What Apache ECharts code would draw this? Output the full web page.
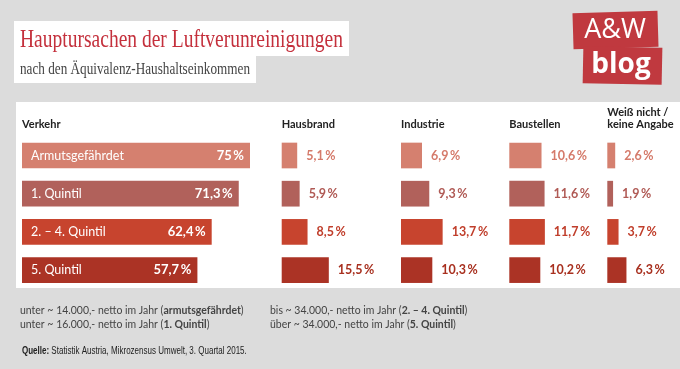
<!DOCTYPE html>
<html><head><meta charset="utf-8">
<script src="https://cdn.jsdelivr.net/npm/echarts@6/dist/echarts.min.js"></script>
<style>html,body{margin:0;padding:0;background:#dcdcdc}#c{width:680px;height:369px}</style>
</head><body><div id="c"></div>
<script>
const categories = ['Armutsgefährdet', '1. Quintil', '2. – 4. Quintil', '5. Quintil'];
const groupNames = ['Verkehr', 'Hausbrand', 'Industrie', 'Baustellen', 'Weiß nicht /\nkeine Angabe'];
const verkehr = [75, 71.3, 62.4, 57.7];
const hausbrand = [5.1, 5.9, 8.5, 15.5];
const industrie = [6.9, 9.3, 13.7, 10.3];
const baustellen = [10.6, 11.6, 11.7, 10.2];
const weissNicht = [2.6, 1.9, 3.7, 6.3];
const seriesData = [verkehr, hausbrand, industrie, baustellen, weissNicht];

const rowColors = ['#d5806f', '#b1615b', '#c7442e', '#ab3325'];
const labelColors = ['#d57a6a', '#b05a55', '#c03e2b', '#a8301f'];
const PX = 3.04;
const gridLefts = [22, 281.7, 401, 509.3, 607.3];
const gridMax = [80, 20, 20, 20, 20];
const TOP = 136.4, H = 152.8;

const cv = document.createElement('canvas').getContext('2d');
function fit(text, font, w) { cv.font = font; return w / cv.measureText(text).width; }
const fmt = v => String(v).replace('.', ',') + '\u2009%';

const grids = [], xAxes = [], yAxes = [], series = [];
seriesData.forEach((d, i) => {
  grids.push({ left: gridLefts[i], top: TOP, width: gridMax[i] * PX, height: H });
  xAxes.push({ type: 'value', gridIndex: i, min: 0, max: gridMax[i], show: false });
  yAxes.push({ type: 'category', gridIndex: i, data: categories, inverse: true, show: false });
  series.push({
    type: 'bar', xAxisIndex: i, yAxisIndex: i, barWidth: 25.7, barGap: '-100%',
    data: d, animation: false,
    itemStyle: { color: p => rowColors[p.dataIndex] },
    label: i === 0 ? {
      show: true, position: 'insideRight', distance: 6, color: '#fff',
      fontFamily: 'Lato', fontWeight: 'bold', fontSize: 13, formatter: p => fmt(p.value)
    } : {
      show: true, position: 'right', distance: 9,
      fontFamily: 'Lato', fontWeight: 'bold', fontSize: 12.5,
      formatter: p => '{c' + p.dataIndex + '|' + fmt(p.value) + '}',
      rich: { c0: { color: labelColors[0] }, c1: { color: labelColors[1] }, c2: { color: labelColors[2] }, c3: { color: labelColors[3] } }
    }
  });
});
series.push({
  type: 'bar', xAxisIndex: 0, yAxisIndex: 0, barWidth: 25.7, barGap: '-100%',
  data: verkehr, animation: false, silent: true,
  itemStyle: { color: 'rgba(0,0,0,0)' },
  label: { show: true, position: 'insideLeft', distance: 9, color: '#fff', fontFamily: 'Lato', fontSize: 12.5,
    formatter: p => categories[p.dataIndex] }
});

const titleText = 'Hauptursachen der Luftverunreinigungen';
const subText = 'nach den Äquivalenz-Haushaltseinkommen';
const srcText = 'Quelle: Statistik Austria, Mikrozensus Umwelt, 3. Quartal 2015.';
const tFont = '25px "Liberation Serif"', sFont = '17px "Liberation Serif"';
const fFont = '12px "Lato"';
const fs = fit('unter ~ 14.000,- netto im Jahr (armutsgefährdet)', fFont, 222);

function foot(x, y, txt) {
  return { type: 'text', x, y, scaleX: fs, originX: 0,
    style: { rich: { b: { fontWeight: 'bold', fontFamily: 'Lato', fontSize: 12 } }, text: txt,
      fontSize: 12, fontFamily: 'Lato', fill: '#444', textVerticalAlign: 'middle' } };
}

const graphic = [
  { type: 'rect', shape: { x: 16, y: 102, width: 664, height: 186 }, style: { fill: '#fff' }, z: -10 },
  { type: 'rect', shape: { x: 14, y: 21, width: 335, height: 35 }, style: { fill: '#fff' } },
  { type: 'rect', shape: { x: 14, y: 55, width: 242, height: 28 }, style: { fill: '#fff' } },
  { type: 'text', x: 20, y: 53, scaleX: fit(titleText, tFont, 323), originX: 0,
    style: { text: titleText, font: tFont, fill: '#c4303c', textVerticalAlign: 'bottom' } },
  { type: 'text', x: 20, y: 78, scaleX: fit(subText, sFont, 230), originX: 0,
    style: { text: subText, font: sFont, fill: '#444', textVerticalAlign: 'bottom' } },
  // logo
  { type: 'rect', shape: { x: 573, y: 12, width: 85, height: 36 }, rotation: 0.03, originX: 615, originY: 30, style: { fill: '#c0393f' } },
  { type: 'rect', shape: { x: 583, y: 47, width: 79, height: 37 }, rotation: -0.02, originX: 622, originY: 66, style: { fill: '#c0393f' } },
  { type: 'text', x: 615, y: 30, style: { text: 'A&W', font: '27px "Open Sans"', fill: '#fff', textAlign: 'center', textVerticalAlign: 'middle' } },
  { type: 'text', x: 621, y: 65, style: { text: 'blog', font: 'bold 28px "Open Sans"', fill: '#fff', textAlign: 'center', textVerticalAlign: 'middle' } },
  // footer
  foot(20, 310, 'unter ~ 14.000,- netto im Jahr ({b|armutsgefährdet})'),
  foot(20, 324, 'unter ~ 16.000,- netto im Jahr ({b|1. Quintil})'),
  foot(270, 310, 'bis ~ 34.000,- netto im Jahr ({b|2. – 4. Quintil})'),
  foot(270, 324, 'über ~ 34.000,- netto im Jahr ({b|5. Quintil})'),
  { type: 'text', x: 22, y: 351, scaleX: fit(srcText, '10px "Liberation Sans"', 223), originX: 0,
    style: { rich: { b: { fontWeight: 'bold', fontSize: 10, fontFamily: 'Liberation Sans' } }, text: '{b|Quelle:} Statistik Austria, Mikrozensus Umwelt, 3. Quartal 2015.', fontSize: 10, fontFamily: 'Liberation Sans', fill: '#222', textVerticalAlign: 'middle' } }
];
groupNames.forEach((n, i) => {
  graphic.push({ type: 'text', x: gridLefts[i], y: 130.5,
    style: { text: n, fontFamily: 'Lato', fontWeight: 'bold', fontSize: 11, lineHeight: 12, fill: '#222', textVerticalAlign: 'bottom' } });
});

const chart = echarts.init(document.getElementById('c'), null, { renderer: 'canvas' });
chart.setOption({ backgroundColor: '#dcdcdc', animation: false, grid: grids, xAxis: xAxes, yAxis: yAxes, series, graphic });
</script></body></html>
